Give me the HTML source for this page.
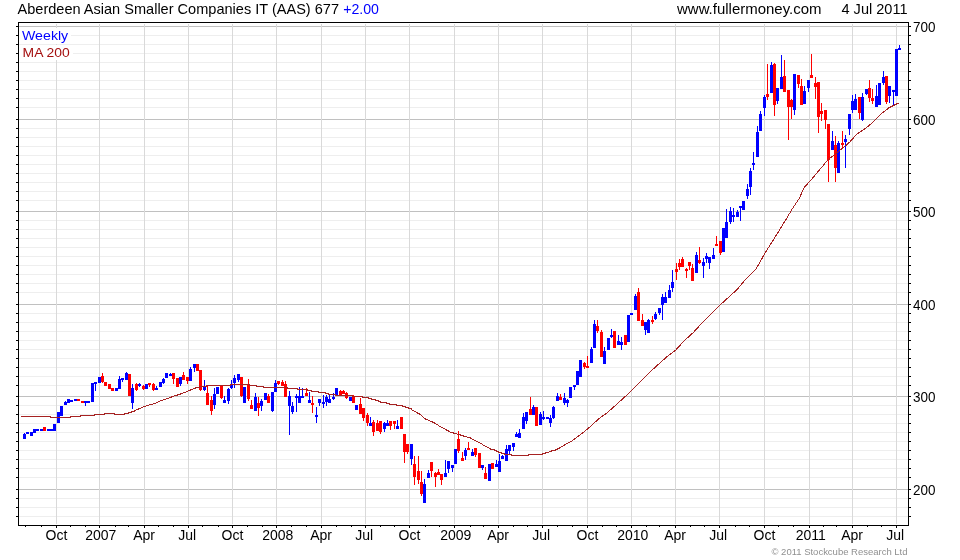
<!DOCTYPE html><html><head><meta charset="utf-8"><title>AAS chart</title><style>html,body{margin:0;padding:0;background:#fff;width:960px;height:560px;overflow:hidden}svg{display:block}text{font-family:"Liberation Sans",Arial,sans-serif}</style></head><body>
<svg width="960" height="560" viewBox="0 0 960 560">
<rect width="960" height="560" fill="#fff"/>
<path d="M19 35.5H908M19 44.5H908M19 53.5H908M19 62.5H908M19 71.5H908M19 80.5H908M19 89.5H908M19 98.5H908M19 107.5H908M19 128.5H908M19 137.5H908M19 146.5H908M19 155.5H908M19 164.5H908M19 173.5H908M19 182.5H908M19 191.5H908M19 200.5H908M19 220.5H908M19 229.5H908M19 238.5H908M19 247.5H908M19 256.5H908M19 265.5H908M19 274.5H908M19 283.5H908M19 292.5H908M19 313.5H908M19 322.5H908M19 331.5H908M19 340.5H908M19 349.5H908M19 358.5H908M19 367.5H908M19 376.5H908M19 385.5H908M19 405.5H908M19 414.5H908M19 423.5H908M19 432.5H908M19 441.5H908M19 450.5H908M19 459.5H908M19 468.5H908M19 477.5H908M19 498.5H908M19 507.5H908M19 516.5H908" stroke="#eeeeee" stroke-width="1" fill="none" shape-rendering="crispEdges"/>
<path d="M19 26.5H908M19 119.5H908M19 211.5H908M19 304.5H908M19 396.5H908M19 489.5H908" stroke="#c0c0c0" stroke-width="1" fill="none" shape-rendering="crispEdges"/>
<path d="M56.5 24V524M99.5 24V524M144.5 24V524M188.5 24V524M232.5 24V524M276.5 24V524M321.5 24V524M365.5 24V524M409.5 24V524M454.5 24V524M498.5 24V524M542.5 24V524M587.5 24V524M631.5 24V524M675.5 24V524M719.5 24V524M764.5 24V524M809.5 24V524M852.5 24V524M896.5 24V524" stroke="#d9d9d9" stroke-width="1" fill="none" shape-rendering="crispEdges"/>
<rect x="19" y="28" width="52" height="16" fill="#fff"/>
<rect x="19" y="45" width="54" height="15" fill="#fff"/>
<text x="22" y="40" font-size="13.6" fill="#0000ff" textLength="46.2" lengthAdjust="spacingAndGlyphs">Weekly</text>
<text x="22.6" y="57" font-size="13.6" fill="#a51010" textLength="47.2" lengthAdjust="spacingAndGlyphs">MA 200</text>
<path d="M23 434h3v5h-3zM24 433h1v1h-1zM26 432h3v2h-3zM30 432h3v4h-3zM33 429h3v4h-3zM36 429h3v2h-3zM40 429h3v2h-3zM47 429h3v2h-3zM50 429h3v2h-3zM53 424h3v7h-3zM57 412h3v11h-3zM60 406h3v10h-3zM64 402h3v3h-3zM65 401h1v1h-1zM67 399h3v4h-3zM70 400h3v2h-3zM74 399h3v2h-3zM84 401h3v2h-3zM85 403h1v3h-1zM87 401h3v2h-3zM91 383h3v19h-3zM94 382h3v2h-3zM95 384h1v7h-1zM98 377h3v6h-3zM115 388h3v3h-3zM118 379h3v10h-3zM119 376h1v3h-1zM121 378h3v2h-3zM122 380h1v2h-1zM125 373h3v7h-3zM126 372h1v1h-1zM131 388h3v15h-3zM132 384h1v4h-1zM132 403h1v6h-1zM138 384h3v2h-3zM139 383h1v1h-1zM139 386h1v1h-1zM145 384h3v5h-3zM155 388h3v2h-3zM156 386h1v2h-1zM159 382h3v5h-3zM162 379h3v4h-3zM163 378h1v1h-1zM163 383h1v1h-1zM165 373h3v5h-3zM169 374h3v2h-3zM170 373h1v1h-1zM179 377h3v7h-3zM180 384h1v2h-1zM189 369h3v12h-3zM190 367h1v2h-1zM193 364h3v4h-3zM194 368h1v4h-1zM203 386h3v4h-3zM204 380h1v6h-1zM204 390h1v1h-1zM213 394h3v11h-3zM214 388h1v6h-1zM214 405h1v4h-1zM216 387h3v7h-3zM223 400h3v3h-3zM224 396h1v4h-1zM227 389h3v12h-3zM228 388h1v1h-1zM228 401h1v3h-1zM230 384h3v4h-3zM231 380h1v4h-1zM231 388h1v1h-1zM233 378h3v5h-3zM234 375h1v3h-1zM234 383h1v5h-1zM237 374h3v6h-3zM238 380h1v2h-1zM243 387h3v16h-3zM254 397h3v14h-3zM255 393h1v4h-1zM260 401h3v5h-3zM261 399h1v2h-1zM261 406h1v5h-1zM264 393h3v7h-3zM271 392h3v19h-3zM272 411h1v1h-1zM274 383h3v9h-3zM275 380h1v3h-1zM288 396h3v10h-3zM289 391h1v5h-1zM289 406h1v29h-1zM291 406h3v6h-3zM292 402h1v4h-1zM292 412h1v2h-1zM295 396h3v2h-3zM296 394h1v2h-1zM296 398h1v14h-1zM298 396h3v7h-3zM299 387h1v9h-1zM301 396h3v2h-3zM302 388h1v8h-1zM308 400h3v3h-3zM309 392h1v8h-1zM315 415h3v2h-3zM316 407h1v8h-1zM316 417h1v6h-1zM318 399h3v4h-3zM319 403h1v3h-1zM322 402h3v2h-3zM323 395h1v7h-1zM323 404h1v4h-1zM325 397h3v5h-3zM326 395h1v2h-1zM326 402h1v4h-1zM328 399h3v4h-3zM329 395h1v4h-1zM332 397h3v2h-3zM333 393h1v4h-1zM333 399h1v1h-1zM335 388h3v7h-3zM349 397h3v4h-3zM355 405h3v5h-3zM369 423h3v3h-3zM370 417h1v6h-1zM383 423h3v6h-3zM384 422h1v1h-1zM384 429h1v3h-1zM386 423h3v3h-3zM387 420h1v3h-1zM396 426h3v3h-3zM397 420h1v6h-1zM410 444h3v15h-3zM411 459h1v6h-1zM423 484h3v19h-3zM424 479h1v5h-1zM427 473h3v5h-3zM428 470h1v3h-1zM444 473h3v4h-3zM445 460h1v13h-1zM447 461h3v8h-3zM448 469h1v4h-1zM451 465h3v3h-3zM452 468h1v4h-1zM454 449h3v15h-3zM464 450h3v6h-3zM465 448h1v2h-1zM465 456h1v4h-1zM471 452h3v4h-3zM472 449h1v3h-1zM481 465h3v3h-3zM482 468h1v2h-1zM488 464h3v17h-3zM495 464h3v3h-3zM496 460h1v4h-1zM498 461h3v11h-3zM499 454h1v7h-1zM501 456h3v3h-3zM502 455h1v1h-1zM505 449h3v12h-3zM506 445h1v4h-1zM508 445h3v6h-3zM509 451h1v4h-1zM512 443h3v4h-3zM513 447h1v4h-1zM515 434h3v3h-3zM516 432h1v2h-1zM518 433h3v5h-3zM519 429h1v4h-1zM522 417h3v12h-3zM523 413h1v4h-1zM525 412h3v9h-3zM526 421h1v3h-1zM532 407h3v8h-3zM533 405h1v2h-1zM539 414h3v11h-3zM540 412h1v2h-1zM542 417h3v2h-3zM543 411h1v6h-1zM543 419h1v1h-1zM546 417h3v2h-3zM549 418h3v5h-3zM550 415h1v3h-1zM550 423h1v4h-1zM552 407h3v11h-3zM553 406h1v1h-1zM553 418h1v1h-1zM556 396h3v5h-3zM557 393h1v3h-1zM563 398h3v5h-3zM564 393h1v5h-1zM564 403h1v2h-1zM566 400h3v3h-3zM567 399h1v1h-1zM567 403h1v4h-1zM569 387h3v11h-3zM573 385h3v2h-3zM574 387h1v3h-1zM576 371h3v14h-3zM579 360h3v17h-3zM590 349h3v14h-3zM591 347h1v2h-1zM593 324h3v24h-3zM594 320h1v4h-1zM603 351h3v13h-3zM604 347h1v4h-1zM607 338h3v12h-3zM610 335h3v2h-3zM611 329h1v6h-1zM611 337h1v1h-1zM617 341h3v4h-3zM618 335h1v6h-1zM620 342h3v3h-3zM621 337h1v5h-1zM621 345h1v5h-1zM627 315h3v27h-3zM630 313h3v2h-3zM634 296h3v14h-3zM635 294h1v2h-1zM644 322h3v8h-3zM645 330h1v5h-1zM647 320h3v13h-3zM648 319h1v1h-1zM654 314h3v5h-3zM655 312h1v2h-1zM655 319h1v1h-1zM658 308h3v5h-3zM659 313h1v2h-1zM661 297h3v8h-3zM662 294h1v3h-1zM662 305h1v15h-1zM664 297h3v6h-3zM665 292h1v5h-1zM668 290h3v8h-3zM669 285h1v5h-1zM671 282h3v6h-3zM672 270h1v12h-1zM672 288h1v4h-1zM695 255h3v18h-3zM696 252h1v3h-1zM702 262h3v4h-3zM703 258h1v4h-1zM703 266h1v12h-1zM705 256h3v3h-3zM706 253h1v3h-1zM706 259h1v4h-1zM708 257h3v6h-3zM709 263h1v6h-1zM712 255h3v4h-3zM713 248h1v7h-1zM722 228h3v24h-3zM725 222h3v16h-3zM726 209h1v13h-1zM729 211h3v11h-3zM730 207h1v4h-1zM730 222h1v2h-1zM732 215h3v2h-3zM733 208h1v7h-1zM733 217h1v5h-1zM736 212h3v5h-3zM737 210h1v2h-1zM739 206h3v2h-3zM740 208h1v13h-1zM742 201h3v9h-3zM746 189h3v7h-3zM747 184h1v5h-1zM747 196h1v3h-1zM749 171h3v16h-3zM750 168h1v3h-1zM750 187h1v8h-1zM752 163h3v2h-3zM753 152h1v11h-1zM753 165h1v5h-1zM756 132h3v25h-3zM757 126h1v6h-1zM759 114h3v17h-3zM760 111h1v3h-1zM763 97h3v11h-3zM764 95h1v2h-1zM764 108h1v8h-1zM770 65h3v28h-3zM771 62h1v3h-1zM776 88h3v13h-3zM777 101h1v3h-1zM780 77h3v12h-3zM781 55h1v22h-1zM793 74h3v36h-3zM794 110h1v5h-1zM803 91h3v13h-3zM804 86h1v5h-1zM807 80h3v8h-3zM808 88h1v4h-1zM831 141h3v9h-3zM832 131h1v10h-1zM837 143h3v30h-3zM838 141h1v2h-1zM844 139h3v3h-3zM845 135h1v4h-1zM845 142h1v26h-1zM848 114h3v15h-3zM849 129h1v6h-1zM851 101h3v9h-3zM852 95h1v6h-1zM852 110h1v3h-1zM854 99h3v11h-3zM855 94h1v5h-1zM861 97h3v23h-3zM862 93h1v4h-1zM862 120h1v1h-1zM865 89h3v5h-3zM866 94h1v1h-1zM875 96h3v11h-3zM876 85h1v11h-1zM878 83h3v22h-3zM882 77h3v6h-3zM883 71h1v6h-1zM883 83h1v2h-1zM888 86h3v10h-3zM889 96h1v7h-1zM892 90h3v2h-3zM893 92h1v13h-1zM895 49h3v47h-3zM898 48h3v2h-3zM899 45h1v3h-1z" fill="#0000ff" shape-rendering="crispEdges"/>
<path d="M43 427h3v4h-3zM77 399h3v2h-3zM81 401h3v2h-3zM101 376h3v6h-3zM102 373h1v3h-1zM102 382h1v1h-1zM104 382h3v4h-3zM108 384h3v5h-3zM111 388h3v3h-3zM128 374h3v22h-3zM135 384h3v6h-3zM136 383h1v1h-1zM136 390h1v1h-1zM142 386h3v3h-3zM143 385h1v1h-1zM143 389h1v1h-1zM148 383h3v2h-3zM149 385h1v2h-1zM152 384h3v6h-3zM153 383h1v1h-1zM153 390h1v1h-1zM172 373h3v6h-3zM173 379h1v5h-1zM176 378h3v9h-3zM182 375h3v5h-3zM183 372h1v3h-1zM186 377h3v4h-3zM187 381h1v3h-1zM196 364h3v7h-3zM199 370h3v20h-3zM200 390h1v1h-1zM206 393h3v12h-3zM207 386h1v7h-1zM210 400h3v11h-3zM211 396h1v4h-1zM211 411h1v4h-1zM220 386h3v12h-3zM221 398h1v1h-1zM240 377h3v19h-3zM241 396h1v1h-1zM247 385h3v14h-3zM248 379h1v6h-1zM248 399h1v2h-1zM250 405h3v4h-3zM251 400h1v5h-1zM257 403h3v5h-3zM258 397h1v6h-1zM258 408h1v8h-1zM267 396h3v7h-3zM268 394h1v2h-1zM277 381h3v3h-3zM278 384h1v1h-1zM281 382h3v4h-3zM282 380h1v2h-1zM284 384h3v13h-3zM285 381h1v3h-1zM305 393h3v3h-3zM306 388h1v5h-1zM311 403h3v2h-3zM312 396h1v7h-1zM312 405h1v8h-1zM339 391h3v4h-3zM340 390h1v1h-1zM342 391h3v3h-3zM343 390h1v1h-1zM345 393h3v5h-3zM346 392h1v1h-1zM346 398h1v1h-1zM352 397h3v6h-3zM353 395h1v2h-1zM359 404h3v10h-3zM360 398h1v6h-1zM362 408h3v10h-3zM363 418h1v3h-1zM366 415h3v8h-3zM367 413h1v2h-1zM367 423h1v3h-1zM372 422h3v10h-3zM373 420h1v2h-1zM373 432h1v4h-1zM376 423h3v8h-3zM377 420h1v3h-1zM379 421h3v11h-3zM380 432h1v2h-1zM389 421h3v5h-3zM390 426h1v4h-1zM393 421h3v3h-3zM394 424h1v5h-1zM400 417h3v12h-3zM403 434h3v18h-3zM404 452h1v11h-1zM406 444h3v8h-3zM407 452h1v2h-1zM413 464h3v13h-3zM414 456h1v8h-1zM414 477h1v8h-1zM417 471h3v9h-3zM418 456h1v15h-1zM418 480h1v4h-1zM420 482h3v12h-3zM421 471h1v11h-1zM421 494h1v2h-1zM430 462h3v9h-3zM431 471h1v6h-1zM434 473h3v4h-3zM435 472h1v1h-1zM435 477h1v10h-1zM437 472h3v3h-3zM438 469h1v3h-1zM440 474h3v6h-3zM441 480h1v5h-1zM457 439h3v12h-3zM458 431h1v8h-1zM458 451h1v2h-1zM461 458h3v3h-3zM462 452h1v6h-1zM467 448h3v2h-3zM468 442h1v6h-1zM474 448h3v7h-3zM475 455h1v2h-1zM478 453h3v15h-3zM484 473h3v6h-3zM485 467h1v6h-1zM491 463h3v6h-3zM529 409h3v6h-3zM530 397h1v12h-1zM535 407h3v19h-3zM559 397h3v3h-3zM560 394h1v3h-1zM583 363h3v4h-3zM584 362h1v1h-1zM584 367h1v2h-1zM586 366h3v2h-3zM587 356h1v10h-1zM596 326h3v5h-3zM597 320h1v6h-1zM597 331h1v2h-1zM600 332h3v25h-3zM601 330h1v2h-1zM613 331h3v17h-3zM624 335h3v10h-3zM637 292h3v29h-3zM638 288h1v4h-1zM641 320h3v6h-3zM642 314h1v6h-1zM651 320h3v2h-3zM652 316h1v4h-1zM652 322h1v2h-1zM675 269h3v3h-3zM676 263h1v6h-1zM676 272h1v8h-1zM678 263h3v4h-3zM679 259h1v4h-1zM679 267h1v3h-1zM681 259h3v8h-3zM682 257h1v2h-1zM685 269h3v2h-3zM686 268h1v1h-1zM686 271h1v7h-1zM688 262h3v4h-3zM689 266h1v4h-1zM691 268h3v13h-3zM692 264h1v4h-1zM698 260h3v3h-3zM699 247h1v13h-1zM699 263h1v1h-1zM715 244h3v2h-3zM716 236h1v8h-1zM719 241h3v12h-3zM720 253h1v2h-1zM766 94h3v3h-3zM767 64h1v30h-1zM767 97h1v3h-1zM773 64h3v41h-3zM774 63h1v1h-1zM774 105h1v11h-1zM783 76h3v16h-3zM784 60h1v16h-1zM787 90h3v17h-3zM788 107h1v33h-1zM790 100h3v7h-3zM791 99h1v1h-1zM791 107h1v12h-1zM797 75h3v9h-3zM798 84h1v4h-1zM800 86h3v19h-3zM801 79h1v7h-1zM810 75h3v3h-3zM811 54h1v21h-1zM814 83h3v4h-3zM815 77h1v6h-1zM815 87h1v12h-1zM817 82h3v35h-3zM818 117h1v16h-1zM820 111h3v3h-3zM821 103h1v8h-1zM821 114h1v7h-1zM824 110h3v10h-3zM825 120h1v9h-1zM827 124h3v36h-3zM828 160h1v22h-1zM834 145h3v23h-3zM835 136h1v9h-1zM835 168h1v14h-1zM841 143h3v2h-3zM842 131h1v12h-1zM842 145h1v3h-1zM858 97h3v16h-3zM859 113h1v6h-1zM868 88h3v10h-3zM869 80h1v8h-1zM869 98h1v4h-1zM871 98h3v3h-3zM872 89h1v9h-1zM872 101h1v3h-1zM885 76h3v26h-3zM886 102h1v2h-1z" fill="#ff0000" shape-rendering="crispEdges"/>
<polyline points="21.0,416.50 50.0,416.50 50.5,417.50 70.0,417.50 70.5,416.50 80.0,416.50 80.5,415.50 94.0,415.50 94.5,414.50 104.0,414.50 104.5,413.50 114.0,413.50 114.5,414.50 124.0,414.50 124.5,413.50 128.0,413.50 128.5,412.50 131.0,412.50 131.5,411.50 134.5,411.50 135.0,410.50 142.2,407.40 148.5,405.25 154.8,403.40 161.0,400.75 167.2,398.70 173.5,396.20 179.8,394.30 186.0,392.00 192.2,389.30 195.0,388.50 196.0,387.50 199.0,387.50 200.0,386.50 206.0,386.50 207.0,385.50 230.0,385.50 231.0,384.50 249.0,384.50 250.0,385.50 256.5,385.50 257.0,386.50 263.5,386.50 264.0,387.50 287.5,387.50 288.0,388.50 297.0,388.50 297.5,389.50 307.5,389.50 308.0,390.50 311.0,390.50 311.5,391.50 318.0,391.50 318.5,392.50 325.0,392.50 325.5,393.50 328.5,393.50 329.0,394.50 335.0,394.50 335.5,395.50 352.0,395.50 352.5,396.50 362.0,396.50 362.5,397.50 368.5,397.50 369.0,398.50 371.5,398.50 372.0,399.50 375.5,399.50 376.0,400.50 378.0,400.50 378.5,401.50 380.0,401.50 380.5,402.50 386.0,402.50 386.5,403.50 389.0,403.50 389.5,404.50 396.0,404.50 396.5,405.50 402.5,405.50 403.0,406.50 405.0,406.50 405.5,407.50 408.0,407.50 408.5,408.50 411.0,408.50 411.5,409.50 412.9,410.40 415.7,411.90 418.0,413.30 420.3,414.40 422.3,416.40 424.9,418.70 428.3,420.30 431.1,421.30 434.0,422.80 436.9,424.40 439.7,426.40 442.6,427.90 445.4,429.30 447.7,430.70 449.8,431.50 450.3,432.50 453.5,432.50 454.0,433.50 456.7,433.50 457.2,434.50 460.0,434.50 460.4,435.50 463.6,435.50 464.0,436.50 466.8,436.50 467.3,437.50 470.0,437.50 471.8,439.00 475.0,440.40 478.0,441.80 480.8,443.40 483.5,445.20 486.3,446.60 489.0,448.20 490.5,448.50 491.0,449.50 494.0,449.50 494.5,450.50 496.0,450.50 496.5,451.50 498.4,451.50 499.0,452.50 501.0,452.50 501.5,453.50 504.4,453.50 505.0,454.50 511.0,454.50 511.5,455.50 528.0,455.50 528.5,454.50 542.0,454.50 542.5,453.50 545.0,453.50 545.5,452.50 548.8,452.50 549.2,451.50 555.0,450.25 560.0,447.75 565.0,444.75 572.5,440.60 582.5,433.10 590.0,426.90 598.8,418.75 606.2,413.50 616.2,404.75 626.2,395.60 637.5,384.75 646.2,375.60 657.9,364.75 667.5,356.20 675.5,350.30 683.6,341.40 693.2,332.60 701.3,323.80 710.9,314.40 719.0,306.00 728.6,297.20 736.6,290.00 743.9,281.40 755.5,269.80 764.8,253.50 776.4,235.00 785.7,219.90 792.6,208.30 799.6,197.80 804.2,187.40 810.8,180.20 819.6,169.80 827.7,160.10 835.7,153.70 843.8,147.25 850.2,141.60 856.6,134.40 864.7,128.80 871.1,123.90 880.7,114.30 888.8,107.90 898.4,103.00" fill="none" stroke="#a62222" stroke-width="1" shape-rendering="crispEdges"/>
<rect x="18.5" y="22.5" width="890" height="503" fill="none" stroke="#000" stroke-width="1" shape-rendering="crispEdges"/>
<path d="M16 26h2v1h-2zM909 26h2v1h-2zM16 119h2v1h-2zM909 119h2v1h-2zM16 211h2v1h-2zM909 211h2v1h-2zM16 304h2v1h-2zM909 304h2v1h-2zM16 396h2v1h-2zM909 396h2v1h-2zM16 489h2v1h-2zM909 489h2v1h-2zM16 35h2v1h-2zM909 35h2v1h-2zM16 44h2v1h-2zM909 44h2v1h-2zM16 53h2v1h-2zM909 53h2v1h-2zM16 62h2v1h-2zM909 62h2v1h-2zM16 71h2v1h-2zM909 71h2v1h-2zM16 80h2v1h-2zM909 80h2v1h-2zM16 89h2v1h-2zM909 89h2v1h-2zM16 98h2v1h-2zM909 98h2v1h-2zM16 107h2v1h-2zM909 107h2v1h-2zM16 128h2v1h-2zM909 128h2v1h-2zM16 137h2v1h-2zM909 137h2v1h-2zM16 146h2v1h-2zM909 146h2v1h-2zM16 155h2v1h-2zM909 155h2v1h-2zM16 164h2v1h-2zM909 164h2v1h-2zM16 173h2v1h-2zM909 173h2v1h-2zM16 182h2v1h-2zM909 182h2v1h-2zM16 191h2v1h-2zM909 191h2v1h-2zM16 200h2v1h-2zM909 200h2v1h-2zM16 220h2v1h-2zM909 220h2v1h-2zM16 229h2v1h-2zM909 229h2v1h-2zM16 238h2v1h-2zM909 238h2v1h-2zM16 247h2v1h-2zM909 247h2v1h-2zM16 256h2v1h-2zM909 256h2v1h-2zM16 265h2v1h-2zM909 265h2v1h-2zM16 274h2v1h-2zM909 274h2v1h-2zM16 283h2v1h-2zM909 283h2v1h-2zM16 292h2v1h-2zM909 292h2v1h-2zM16 313h2v1h-2zM909 313h2v1h-2zM16 322h2v1h-2zM909 322h2v1h-2zM16 331h2v1h-2zM909 331h2v1h-2zM16 340h2v1h-2zM909 340h2v1h-2zM16 349h2v1h-2zM909 349h2v1h-2zM16 358h2v1h-2zM909 358h2v1h-2zM16 367h2v1h-2zM909 367h2v1h-2zM16 376h2v1h-2zM909 376h2v1h-2zM16 385h2v1h-2zM909 385h2v1h-2zM16 405h2v1h-2zM909 405h2v1h-2zM16 414h2v1h-2zM909 414h2v1h-2zM16 423h2v1h-2zM909 423h2v1h-2zM16 432h2v1h-2zM909 432h2v1h-2zM16 441h2v1h-2zM909 441h2v1h-2zM16 450h2v1h-2zM909 450h2v1h-2zM16 459h2v1h-2zM909 459h2v1h-2zM16 468h2v1h-2zM909 468h2v1h-2zM16 477h2v1h-2zM909 477h2v1h-2zM16 498h2v1h-2zM909 498h2v1h-2zM16 507h2v1h-2zM909 507h2v1h-2zM16 516h2v1h-2zM909 516h2v1h-2zM25 526h1v1h-1zM41 526h1v1h-1zM56 526h1v2h-1zM70 526h1v1h-1zM85 526h1v1h-1zM99 526h1v2h-1zM115 526h1v1h-1zM128 526h1v1h-1zM144 526h1v2h-1zM158 526h1v1h-1zM173 526h1v1h-1zM188 526h1v2h-1zM202 526h1v1h-1zM218 526h1v1h-1zM232 526h1v2h-1zM247 526h1v1h-1zM262 526h1v1h-1zM276 526h1v2h-1zM291 526h1v1h-1zM306 526h1v1h-1zM321 526h1v2h-1zM336 526h1v1h-1zM351 526h1v1h-1zM365 526h1v2h-1zM380 526h1v1h-1zM394 526h1v1h-1zM409 526h1v2h-1zM425 526h1v1h-1zM439 526h1v1h-1zM454 526h1v2h-1zM470 526h1v1h-1zM483 526h1v1h-1zM498 526h1v2h-1zM513 526h1v1h-1zM527 526h1v1h-1zM542 526h1v2h-1zM557 526h1v1h-1zM572 526h1v1h-1zM587 526h1v2h-1zM602 526h1v1h-1zM616 526h1v1h-1zM631 526h1v2h-1zM646 526h1v1h-1zM659 526h1v1h-1zM675 526h1v2h-1zM690 526h1v1h-1zM704 526h1v1h-1zM719 526h1v2h-1zM735 526h1v1h-1zM749 526h1v1h-1zM764 526h1v2h-1zM778 526h1v1h-1zM793 526h1v1h-1zM809 526h1v2h-1zM823 526h1v1h-1zM836 526h1v1h-1zM852 526h1v2h-1zM867 526h1v1h-1zM881 526h1v1h-1zM896 526h1v2h-1z" fill="#000" shape-rendering="crispEdges"/>
<text x="913" y="32" font-size="14" fill="#000" textLength="22.5" lengthAdjust="spacingAndGlyphs">700</text>
<text x="913" y="125" font-size="14" fill="#000" textLength="22.5" lengthAdjust="spacingAndGlyphs">600</text>
<text x="913" y="217" font-size="14" fill="#000" textLength="22.5" lengthAdjust="spacingAndGlyphs">500</text>
<text x="913" y="310" font-size="14" fill="#000" textLength="22.5" lengthAdjust="spacingAndGlyphs">400</text>
<text x="913" y="402" font-size="14" fill="#000" textLength="22.5" lengthAdjust="spacingAndGlyphs">300</text>
<text x="913" y="495" font-size="14" fill="#000" textLength="22.5" lengthAdjust="spacingAndGlyphs">200</text>
<text x="56.50" y="540" font-size="14" fill="#000" text-anchor="middle">Oct</text>
<text x="100.80" y="540" font-size="14" fill="#000" text-anchor="middle">2007</text>
<text x="144.15" y="540" font-size="14" fill="#000" text-anchor="middle">Apr</text>
<text x="187.20" y="540" font-size="14" fill="#000" text-anchor="middle">Jul</text>
<text x="232.50" y="540" font-size="14" fill="#000" text-anchor="middle">Oct</text>
<text x="277.80" y="540" font-size="14" fill="#000" text-anchor="middle">2008</text>
<text x="321.15" y="540" font-size="14" fill="#000" text-anchor="middle">Apr</text>
<text x="364.20" y="540" font-size="14" fill="#000" text-anchor="middle">Jul</text>
<text x="409.50" y="540" font-size="14" fill="#000" text-anchor="middle">Oct</text>
<text x="455.80" y="540" font-size="14" fill="#000" text-anchor="middle">2009</text>
<text x="498.15" y="540" font-size="14" fill="#000" text-anchor="middle">Apr</text>
<text x="541.20" y="540" font-size="14" fill="#000" text-anchor="middle">Jul</text>
<text x="587.50" y="540" font-size="14" fill="#000" text-anchor="middle">Oct</text>
<text x="632.80" y="540" font-size="14" fill="#000" text-anchor="middle">2010</text>
<text x="675.15" y="540" font-size="14" fill="#000" text-anchor="middle">Apr</text>
<text x="718.20" y="540" font-size="14" fill="#000" text-anchor="middle">Jul</text>
<text x="764.50" y="540" font-size="14" fill="#000" text-anchor="middle">Oct</text>
<text x="810.80" y="540" font-size="14" fill="#000" text-anchor="middle">2011</text>
<text x="852.15" y="540" font-size="14" fill="#000" text-anchor="middle">Apr</text>
<text x="895.20" y="540" font-size="14" fill="#000" text-anchor="middle">Jul</text>
<text x="17.5" y="14" font-size="15" fill="#000" textLength="321.5" lengthAdjust="spacingAndGlyphs">Aberdeen Asian Smaller Companies IT (AAS) 677</text>
<text x="343.2" y="14" font-size="15" fill="#0000ff" textLength="35.8" lengthAdjust="spacingAndGlyphs">+2.00</text>
<text x="677" y="14" font-size="15" fill="#000" textLength="144.5" lengthAdjust="spacingAndGlyphs">www.fullermoney.com</text>
<text x="841.5" y="14" font-size="15" fill="#000" textLength="66" lengthAdjust="spacingAndGlyphs">4 Jul 2011</text>
<text x="771.5" y="555" font-size="9.5" fill="#909090" textLength="136" lengthAdjust="spacing">© 2011 Stockcube Research Ltd</text>
</svg></body></html>
